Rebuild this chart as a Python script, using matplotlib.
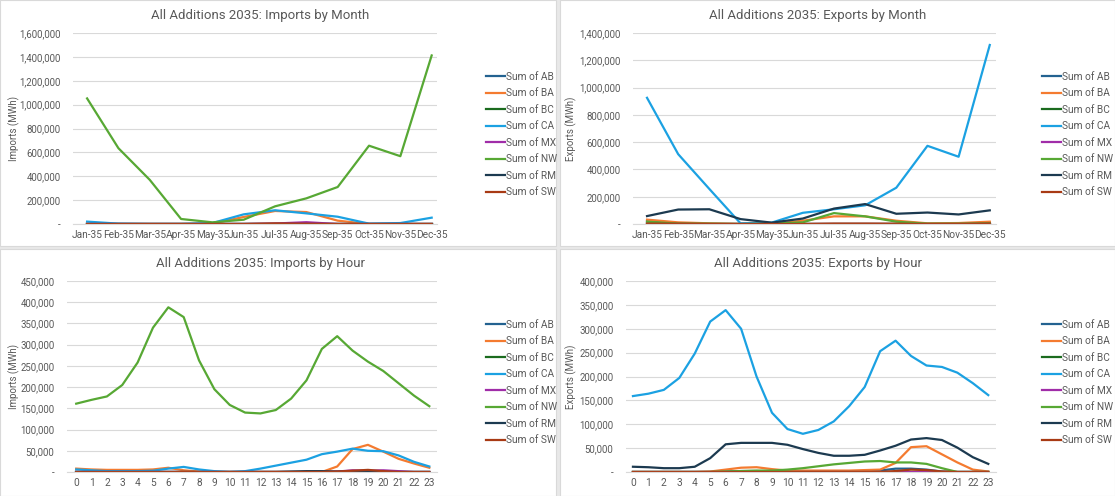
import numpy as np
import matplotlib
matplotlib.use("Agg")
import matplotlib.pyplot as plt
from matplotlib.patches import Rectangle
from matplotlib.ticker import FuncFormatter, MultipleLocator

plt.rcParams['font.family'] = ['Roboto', 'DejaVu Sans']

# Data
series = ["AB", "BA", "BC", "CA", "MX", "NW", "RM", "SW"]
colors = ["#236290", "#F47B30", "#1B6B1E", "#1BA1E2", "#A02DA8", "#57A834", "#1C3A50", "#A83A14"]

months = ["Jan-35", "Feb-35", "Mar-35", "Apr-35", "May-35", "Jun-35",
          "Jul-35", "Aug-35", "Sep-35", "Oct-35", "Nov-35", "Dec-35"]
hours = [str(h) for h in range(24)]

imp_month = {
    "AB": [0, 0, 0, 0, 0, 0, 0, 0, 0, 0, 0, 0],
    "BA": [0, 0, 0, 0, 3000, 59000, 109000, 100000, 28000, 0, 0, 0],
    "BC": [0, 0, 0, 0, 0, 0, 0, 0, 0, 0, 0, 0],
    "CA": [20000, 3000, 0, 0, 8000, 81000, 115000, 89000, 61000, 3000, 8000, 53000],
    "MX": [0, 0, 0, 0, 0, 0, 4000, 15000, 0, 0, 0, 0],
    "NW": [1052000, 635000, 370000, 42000, 14000, 36000, 148000, 215000, 310000, 656000, 568000, 1412000],
    "RM": [0, 0, 0, 0, 0, 0, 0, 0, 0, 0, 0, 0],
    "SW": [0, 0, 0, 0, 0, 0, 5000, 2000, 0, 0, 0, 0],
}

exp_month = {
    "AB": [20000, 5000, 0, 0, 0, 0, 0, 0, 0, 0, 0, 10000],
    "BA": [32000, 12000, 5000, 0, 0, 24000, 56000, 56000, 24000, 5000, 7000, 17000],
    "BC": [0, 0, 0, 0, 0, 0, 0, 0, 0, 0, 0, 0],
    "CA": [925000, 512000, 257000, 5000, 10000, 82000, 108000, 137000, 266000, 573000, 493000, 1312000],
    "MX": [0, 0, 0, 0, 0, 0, 0, 0, 0, 0, 0, 0],
    "NW": [17000, 3000, 2000, 0, 3000, 12000, 80000, 56000, 17000, 2000, 2000, 5000],
    "RM": [58000, 106000, 108000, 36000, 10000, 40000, 113000, 146000, 75000, 84000, 70000, 100000],
    "SW": [3000, 2000, 0, 0, 0, 0, 3000, 3000, 2000, 0, 0, 3000],
}

imp_hour = {
    "AB": [0] * 24,
    "BA": [8000, 6000, 5000, 5000, 5000, 6000, 10000, 4000, 1000, 0, 0, 0,
           0, 0, 0, 0, 0, 13000, 54000, 64000, 48000, 31000, 20000, 10000],
    "BC": [0] * 24,
    "CA": [6000, 4000, 2000, 2000, 2000, 3000, 8000, 12000, 6000, 2000, 0, 2000,
           8000, 15000, 22000, 29000, 42000, 48000, 55000, 50000, 49000, 39000, 24000, 13000],
    "MX": [0, 0, 0, 0, 0, 0, 0, 0, 0, 0, 0, 0,
           0, 0, 0, 0, 0, 1000, 4000, 3000, 4000, 2000, 0, 0],
    "NW": [161000, 170000, 178000, 205000, 258000, 340000, 388000, 365000, 263000, 195000, 158000, 140000,
           138000, 146000, 173000, 216000, 290000, 320000, 286000, 260000, 238000, 209000, 180000, 155000],
    "RM": [0, 0, 0, 0, 0, 0, 0, 0, 0, 0, 0, 0,
           0, 0, 1000, 2000, 2000, 1000, 1000, 2000, 0, 0, 0, 0],
    "SW": [0, 0, 0, 0, 0, 0, 0, 0, 0, 0, 0, 0,
           0, 0, 0, 0, 0, 1000, 3000, 5000, 2000, 0, 0, 0],
}

exp_hour = {
    "AB": [0, 0, 0, 0, 0, 0, 1000, 2000, 2000, 1000, 0, 0,
           0, 0, 1000, 2000, 3000, 7000, 7000, 5000, 1000, 0, 0, 0],
    "BA": [0, 0, 0, 0, 0, 1000, 5000, 9000, 10000, 6000, 3000, 3000,
           3000, 3000, 3000, 4000, 5000, 19000, 52000, 54000, 37000, 20000, 5000, 1000],
    "BC": [0] * 24,
    "CA": [159000, 164000, 172000, 197000, 248000, 315000, 339000, 300000, 200000, 124000, 90000, 80000,
           88000, 106000, 138000, 178000, 253000, 275000, 243000, 223000, 220000, 208000, 186000, 161000],
    "MX": [0] * 24,
    "NW": [0, 0, 0, 0, 0, 0, 1000, 2000, 3000, 3000, 5000, 8000,
           12000, 16000, 19000, 22000, 23000, 20000, 20000, 17000, 8000, 0, 0, 0],
    "RM": [11000, 10000, 8000, 8000, 11000, 29000, 58000, 61000, 61000, 61000, 57000, 48000,
           40000, 34000, 34000, 36000, 45000, 55000, 68000, 71000, 67000, 51000, 31000, 17000],
    "SW": [0, 0, 0, 0, 0, 0, 0, 0, 0, 0, 0, 0,
           0, 0, 0, 0, 0, 2000, 5000, 4000, 1000, 0, 0, 0],
}

W, H = 1115, 496
fig = plt.figure(figsize=(W / 100, H / 100), dpi=100)
fig.patch.set_facecolor("#e8e8e8")

# panel backgrounds
for (x0, y0, x1, y1) in [(0, 0, 556, 246), (560, 0, 1115, 246),
                         (0, 249, 556, 496), (560, 249, 1115, 496)]:
    fig.patches.append(Rectangle((x0 / W, 1 - y1 / H), (x1 - x0) / W, (y1 - y0) / H,
                                 transform=fig.transFigure, facecolor="white",
                                 edgecolor="#d9d9d9", linewidth=0.8, zorder=-5))

txt = "#595959"


def fmt(v, pos):
    if v == 0:
        return "-"
    return "{:,.0f}".format(v)


def make_panel(box, data, cats, ymax, ystep, xlim, title, title_x, title_y, ylabel, ylab_x, leg_x):
    x0, y0, x1, y1 = box
    ax = fig.add_axes([x0 / W, 1 - y1 / H, (x1 - x0) / W, (y1 - y0) / H])
    ax.set_zorder(2)
    ax.patch.set_alpha(0)
    x = np.arange(len(cats))
    for s, c in zip(series, colors):
        ax.plot(x, data[s], color=c, lw=1.6, label="Sum of " + s, solid_joinstyle="round")
    ax.set_xlim(*xlim)
    ax.set_ylim(0, ymax)
    ax.yaxis.set_major_locator(MultipleLocator(ystep))
    ax.yaxis.set_major_formatter(FuncFormatter(fmt))
    ax.set_xticks(x)
    ax.set_xticklabels(cats)
    ax.tick_params(axis="y", length=0, labelsize=6.9, colors=txt, pad=9)
    ax.tick_params(axis="x", length=0, labelsize=7.3, colors=txt, pad=4)
    ax.grid(axis="y", color="#d9d9d9", lw=0.8)
    ax.set_axisbelow(True)
    for sp in ["top", "right", "left"]:
        ax.spines[sp].set_visible(False)
    ax.spines["bottom"].set_color("#d9d9d9")
    fig.text(title_x / W, 1 - title_y / H, title, ha="center", va="center", fontsize=9.5, color=txt)
    fig.text(ylab_x / W, 1 - (y0 + y1) / 2 / H, ylabel, ha="center", va="center",
             rotation=90, fontsize=7, color=txt)
    leg = ax.legend(loc="center left", bbox_to_anchor=((leg_x - x0) / (x1 - x0), 1 - (134.5 - 33) / 191),
                    frameon=False, fontsize=7.3, handlelength=1.9, handletextpad=0.1,
                    labelspacing=0.64, borderaxespad=0)
    for t in leg.get_texts():
        t.set_color(txt)
    return ax


make_panel((73, 33, 437, 224), imp_month, months, 1600000, 200000, (-0.45, 11.17),
           "All Additions 2035: Imports by Month", 260, 15, "Imports (MWh)", 14, 482)
make_panel((633, 33, 996, 224), exp_month, months, 1400000, 200000, (-0.45, 11.2),
           "All Additions 2035: Exports by Month", 818, 15, "Exports (MWh)", 571, 1038)
make_panel((67, 281, 437, 472), imp_hour, hours, 450000, 50000, (-0.6, 23.5),
           "All Additions 2035: Imports by Hour", 260, 263, "Imports (MWh)", 14, 482)
make_panel((626, 281, 996, 472), exp_hour, hours, 400000, 50000, (-0.45, 23.5),
           "All Additions 2035: Exports by Hour", 818, 263, "Exports (MWh)", 571, 1038)

fig.savefig("out.png", dpi=100, facecolor=fig.get_facecolor())
